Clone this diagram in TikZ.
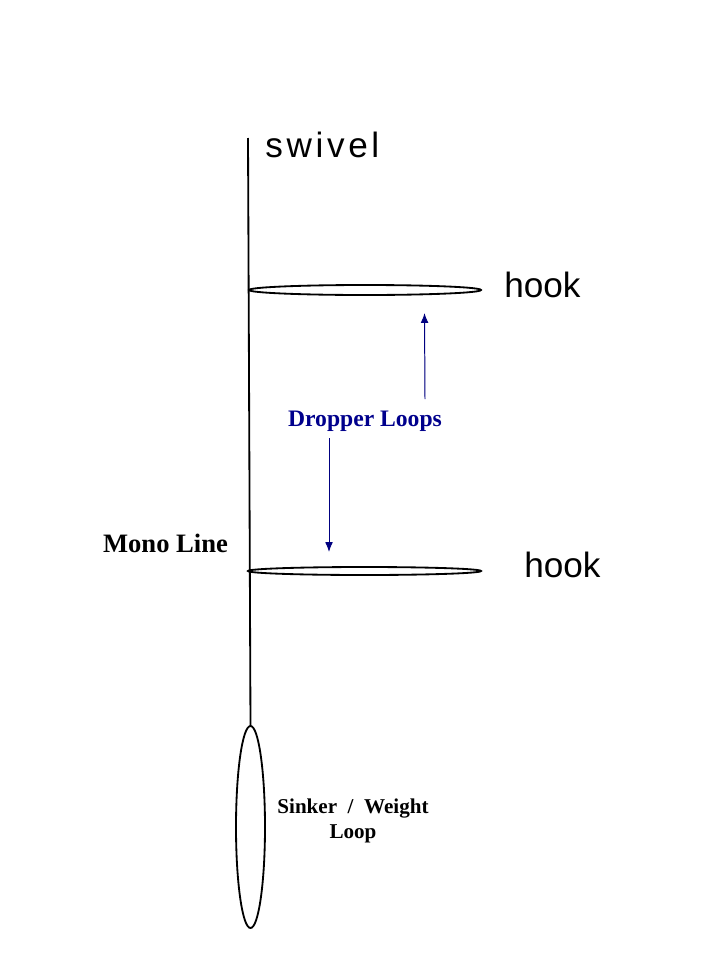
\documentclass[tikz,border=0pt]{standalone}
\usepackage{fontspec}
\setmainfont{Liberation Serif}
\newfontfamily\hookfont{Liberation Sans}
\usetikzlibrary{arrows.meta,shapes.geometric}

\begin{document}
\begin{tikzpicture} [x=0.025cm,y=-0.025cm,>={Latex[length=7pt,width=5.5pt]},
	loop node/.style={ellipse,draw,line width=1.3pt,inner sep=0pt,outer sep=0pt},
	hook node/.style={font=\hookfont\fontsize{25}{28}\selectfont,anchor=base west,inner sep=0pt},
	label node/.style={font=\bfseries\fontsize{15}{18}\selectfont,align=center,inner sep=0pt},
	blue line/.style={->,draw=blue!50!black,fill=blue!50!black,line width=0.7pt}]

	\useasboundingbox (0,0) rectangle (720,960);

	\coordinate (top) at (248,138);
	\node[loop node,minimum width=232*0.025cm,minimum height=10*0.025cm] (0) at (365,290) {};
	\node[loop node,minimum width=233*0.025cm,minimum height=8*0.025cm] (1) at (364.5,571) {};
	\node[loop node,minimum width=29*0.025cm,minimum height=202*0.025cm] (2) at (250.5,827) {};

	\node[hook node] (3) at (265,157) {s\kern2.6pt w\kern2.6pt i\kern2.6pt v\kern2.6pt e\kern2.6pt l};
	\node[hook node] (4) at (504,297) {hook};
	\node[hook node] (5) at (524,577) {hook};
	\node[label node,text=blue!55!black,font=\bfseries\fontsize{16.8}{20}\selectfont,anchor=base] (6) at (365,426) {Dropper Loops};
	\node[label node,font=\bfseries\fontsize{18.9}{22}\selectfont,anchor=base] (7) at (165.5,552) {Mono Line};
	\node[label node,anchor=north] (8) at (353,798.5) {Sinker \ / \ Weight\\Loop};

	\coordinate (up) at (424.5,313);
	\coordinate (upfoot) at (425,399);
	\coordinate (down) at (329,552);
	\coordinate (downfoot) at (329,438);

	\draw[line width=1.3pt] (top) -- (2.north);
	\draw[blue line] (upfoot) -- (up);
	\draw[blue line] (downfoot) -- (down);
\end{tikzpicture}
\end{document}
